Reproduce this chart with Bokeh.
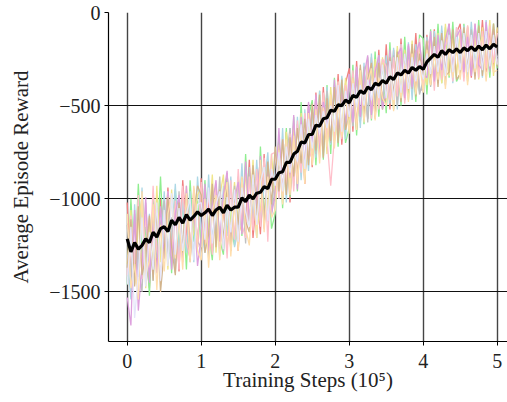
import numpy as np
from bokeh.plotting import figure
from bokeh.models import FixedTicker, Range1d, CustomJSTickFormatter
from bokeh.embed import file_html
from bokeh.resources import INLINE

# training steps in units of 1e5 (101 evaluation points)
steps = np.arange(101) * 0.05

mean_reward = [
    -1215, -1285, -1235, -1270, -1250, -1215, -1235, -1180, -1205, -1160,
    -1150, -1175, -1115, -1140, -1100, -1130, -1085, -1115, -1095, -1070,
    -1090, -1075, -1055, -1090, -1060, -1045, -1075, -1035, -1060, -1045,
    -1045, -995, -1015, -980, -1000, -970, -965, -935, -945, -895,
    -895, -860, -855, -805, -805, -760, -745, -695, -700, -655,
    -655, -605, -610, -570, -565, -525, -530, -495, -500, -470,
    -485, -445, -455, -420, -435, -400, -415, -380, -390, -365,
    -380, -345, -360, -325, -335, -310, -325, -295, -310, -290,
    -305, -265, -245, -225, -240, -205, -225, -200, -215, -195,
    -215, -190, -205, -185, -205, -180, -200, -175, -195, -170,
    -185]

run_lightcoral = [
    -1020, -1450, -1110, -1380, -960, -1300, -1480, -1060, -1350, -1000,
    -1300, -940, -1250, -1020, -1390, -900, -1180, -1330, -950, -1260,
    -890, -1230, -1010, -1300, -920, -1270, -1080, -860, -1240, -980,
    -1280, -880, -1150, -790, -1210, -960, -1190, -760, -1120, -880,
    -1010, -690, -980, -640, -1020, -600, -890, -560, -920, -490,
    -830, -430, -760, -400, -720, -460, -690, -330, -710, -380,
    -300, -640, -260, -590, -310, -570, -240, -560, -200, -520,
    -170, -520, -200, -480, -140, -470, -180, -430, -110, -420,
    -410, -120, -380, -90, -350, -100, -340, -60, -330, -110,
    -60, -330, -80, -350, -70, -310, -40, -320, -90, -300,
    -90]

run_lightgreen = [
    -1460, -1000, -1390, -920, -1310, -1150, -1520, -990, -1280, -880,
    -1320, -1030, -1400, -950, -1290, -1010, -1380, -900, -1230, -1010,
    -1260, -900, -1180, -1330, -930, -1220, -1300, -870, -1150, -1250,
    -880, -1200, -760, -1130, -900, -1210, -720, -1100, -800, -1160,
    -1080, -660, -1050, -620, -990, -560, -960, -480, -900, -560,
    -470, -820, -420, -790, -390, -760, -350, -720, -350, -700,
    -620, -280, -660, -300, -600, -240, -580, -210, -560, -250,
    -540, -160, -520, -200, -500, -130, -470, -180, -480, -120,
    -140, -440, -90, -380, -60, -380, -80, -350, -50, -370,
    -330, -60, -370, -80, -340, -40, -320, -90, -350, -60,
    -300]

run_lightblue = [
    -1300, -1540, -1030, -1420, -940, -1360, -1080, -1440, -1000, -1330,
    -960, -1350, -1200, -920, -1320, -1010, -1290, -960, -1340, -880,
    -1150, -1290, -870, -1240, -990, -1310, -930, -1200, -880, -1260,
    -1160, -810, -1200, -880, -1130, -790, -1120, -930, -750, -1100,
    -740, -1000, -620, -1020, -620, -930, -560, -900, -520, -850,
    -520, -780, -420, -760, -400, -710, -420, -660, -340, -680,
    -360, -610, -300, -620, -270, -570, -220, -550, -230, -510,
    -230, -490, -190, -520, -170, -450, -160, -470, -170, -430,
    -390, -130, -360, -100, -370, -70, -340, -90, -380, -80,
    -300, -70, -340, -50, -310, -100, -350, -40, -290, -110,
    -260]

run_khaki = [
    -1350, -1060, -1460, -1140, -990, -1480, -1100, -1400, -930, -1340,
    -1060, -1380, -950, -1330, -1010, -1300, -930, -1250, -1180, -980,
    -940, -1250, -1150, -870, -1290, -990, -870, -1260, -1120, -910,
    -1120, -1180, -850, -1130, -790, -1160, -1060, -800, -1080, -760,
    -1000, -710, -980, -640, -940, -600, -910, -540, -860, -570,
    -760, -480, -740, -440, -760, -400, -690, -370, -640, -350,
    -580, -330, -610, -300, -560, -270, -540, -250, -500, -240,
    -470, -230, -490, -180, -440, -200, -420, -150, -410, -180,
    -310, -390, -130, -360, -110, -380, -60, -340, -120, -340,
    -100, -350, -70, -300, -110, -360, -80, -290, -40, -340,
    -80]

run_silver = [
    -1140, -1420, -1080, -1360, -1500, -1020, -1400, -1060, -1320, -1130,
    -1010, -1310, -1100, -1400, -960, -1270, -1040, -1340, -980, -1230,
    -1260, -980, -1320, -960, -1200, -880, -1280, -1000, -1240, -930,
    -1190, -920, -1240, -830, -1140, -940, -800, -1150, -860, -1070,
    -950, -820, -870, -790, -620, -910, -600, -840, -640, -780,
    -520, -760, -490, -710, -420, -700, -390, -650, -420, -610,
    -380, -610, -350, -560, -290, -590, -310, -490, -270, -520,
    -270, -450, -230, -500, -220, -430, -240, -410, -200, -440,
    -360, -180, -400, -150, -330, -200, -390, -110, -320, -170,
    -280, -110, -310, -90, -300, -150, -280, -100, -320, -140,
    -240]

run_pink = [
    -1410, -1090, -1350, -980, -1430, -1080, -1370, -930, -1270, -1390,
    -1250, -960, -1310, -1010, -1380, -930, -1230, -1320, -940, -1260,
    -910, -1240, -960, -1300, -930, -1260, -1010, -1320, -900, -1220,
    -840, -1140, -1210, -880, -1170, -840, -1150, -780, -1230, -760,
    -750, -1000, -680, -920, -650, -960, -580, -860, -540, -790,
    -740, -500, -720, -430, -680, -930, -670, -370, -680, -390,
    -560, -310, -600, -330, -540, -260, -570, -290, -520, -250,
    -290, -470, -240, -450, -170, -490, -270, -200, -430, -140,
    -400, -190, -120, -420, -140, -360, -180, -130, -370, -80,
    -140, -370, -70, -280, -60, -350, -100, -300, -70, -270,
    -110]

run_plum = [
    -1530, -1680, -1060, -1600, -1360, -990, -1450, -1130, -1400, -1040,
    -1320, -960, -1380, -1080, -980, -1340, -930, -1280, -1030, -1360,
    -1200, -920, -1280, -1030, -900, -1230, -980, -850, -1280, -1000,
    -910, -1190, -800, -1120, -930, -1040, -770, -1160, -820, -1080,
    -980, -620, -1000, -700, -890, -550, -950, -560, -840, -480,
    -700, -440, -780, -480, -580, -680, -360, -670, -410, -600,
    -330, -590, -290, -560, -340, -230, -550, -320, -230, -510,
    -430, -200, -470, -230, -190, -460, -170, -400, -220, -160,
    -330, -350, -100, -370, -120, -310, -150, -60, -340, -130,
    -90, -320, -130, -340, -60, -280, -310, -50, -300, -90,
    -270]

run_tan = [
    -1370, -1110, -1470, -1040, -1410, -1310, -1090, -1440, -1050, -1500,
    -1280, -990, -1260, -1410, -1020, -1290, -980, -1300, -1070, -930,
    -980, -1290, -1190, -920, -1260, -950, -1230, -930, -1280, -980,
    -1140, -890, -1120, -1180, -820, -1090, -850, -1140, -800, -1030,
    -720, -960, -680, -980, -670, -880, -620, -810, -570, -820,
    -490, -740, -440, -780, -460, -690, -400, -700, -360, -630,
    -540, -350, -630, -280, -550, -360, -270, -570, -270, -470,
    -470, -240, -440, -210, -480, -220, -420, -170, -450, -220,
    -360, -150, -390, -130, -400, -110, -340, -320, -90, -360,
    -330, -80, -310, -140, -360, -70, -340, -120, -280, -60,
    -290]

run_navajowhite = [
    -1080, -1480, -1350, -1540, -960, -1410, -1330, -1030, -1490, -1140,
    -1390, -1080, -980, -1320, -1100, -1380, -970, -1340, -930, -1280,
    -1330, -1000, -1370, -1070, -980, -1330, -1040, -910, -1310, -1020,
    -1280, -880, -1160, -1250, -930, -1210, -790, -1180, -880, -1100,
    -1060, -740, -1030, -680, -980, -660, -920, -640, -920, -540,
    -820, -520, -810, -510, -720, -440, -730, -480, -670, -440,
    -650, -350, -630, -310, -590, -380, -300, -580, -350, -460,
    -500, -260, -530, -260, -460, -280, -480, -220, -440, -260,
    -430, -200, -390, -220, -360, -160, -410, -170, -350, -190,
    -360, -160, -390, -130, -320, -190, -130, -370, -160, -320,
    -310]

run_lavender = [
    -1460, -1150, -1640, -1400, -1100, -1470, -1180, -1380, -1020, -1440,
    -1060, -1360, -970, -1300, -1050, -1280, -1080, -1000, -1330, -1030,
    -1020, -1220, -940, -1240, -1030, -960, -1270, -990, -1180, -950,
    -1230, -940, -1070, -1150, -870, -1140, -910, -830, -1120, -840,
    -930, -750, -960, -720, -860, -740, -800, -600, -840, -570,
    -730, -550, -650, -530, -620, -500, -640, -390, -640, -420,
    -560, -380, -510, -390, -500, -360, -470, -350, -460, -280,
    -460, -260, -470, -240, -430, -220, -410, -240, -370, -260,
    -360, -220, -330, -180, -320, -150, -340, -120, -320, -130,
    -310, -110, -320, -120, -300, -110, -310, -100, -290, -120,
    -280]

runs = [
    (run_lightcoral, "lightcoral"),
    (run_lightgreen, "lightgreen"),
    (run_lightblue, "lightblue"),
    (run_khaki, "khaki"),
    (run_silver, "silver"),
    (run_pink, "pink"),
    (run_plum, "plum"),
    (run_tan, "tan"),
    (run_navajowhite, "navajowhite"),
    (run_lavender, "lavender"),
]

x_ticks = [0, 1, 2, 3, 4, 5]
y_ticks = [-1500, -1000, -500, 0]

FONT = "Liberation Serif"

p = figure(width=507, height=400, output_backend="svg", toolbar_location=None,
           x_range=Range1d(-0.253, 5.139), y_range=Range1d(-1766, 0),
           min_border_left=108, min_border_right=0, min_border_top=12,
           min_border_bottom=59)
p.outline_line_color = None
p.background_fill_color = "white"
p.border_fill_color = "white"

for vals, col in runs:
    assert len(vals) == len(steps)
    p.line(steps, vals, line_color=col, line_width=1.3)
assert len(mean_reward) == len(steps)
p.line(steps, mean_reward, line_color="black", line_width=3.2)

p.xaxis.ticker = FixedTicker(ticks=x_ticks)
p.yaxis.ticker = FixedTicker(ticks=y_ticks)
p.yaxis.formatter = CustomJSTickFormatter(
    code="return tick < 0 ? '\u2212' + Math.abs(tick) : '' + tick;")

for ax in (p.xaxis, p.yaxis):
    ax.axis_line_color = "black"
    ax.axis_line_width = 1.2
    ax.major_tick_line_color = "black"
    ax.major_tick_out = 4
    ax.major_tick_in = 0
    ax.minor_tick_line_color = None
    ax.major_label_text_font = FONT
    ax.major_label_text_font_size = "20px"
    ax.major_label_text_color = "#222222"
    ax.axis_label_text_font = FONT
    ax.axis_label_text_font_size = "21px"
    ax.axis_label_text_font_style = "normal"
    ax.axis_label_text_color = "#222222"

p.xaxis.axis_label = "Training Steps (10\u2075)"
p.yaxis.axis_label = "Average Episode Reward"
p.xaxis.major_label_standoff = 8
p.xaxis.axis_label_standoff = -3
p.yaxis.major_label_standoff = 4
p.yaxis.axis_label_standoff = 13

p.xgrid.grid_line_color = "#444444"
p.xgrid.grid_line_width = 1.4
p.ygrid.grid_line_color = "#111111"
p.ygrid.grid_line_width = 1
p.xgrid.ticker = FixedTicker(ticks=x_ticks)
p.ygrid.ticker = FixedTicker(ticks=y_ticks)

open("out.html", "w").write(file_html(p, INLINE))
